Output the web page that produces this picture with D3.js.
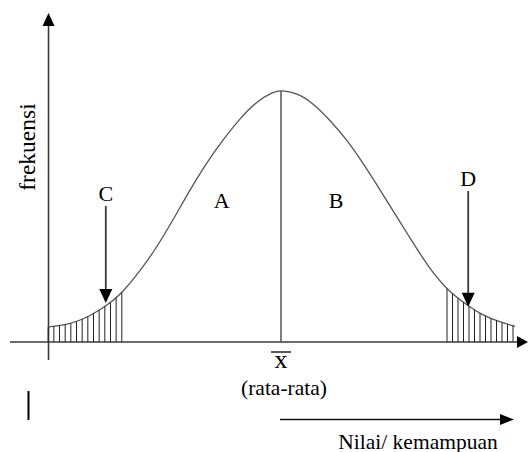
<!DOCTYPE html>
<html><head><meta charset="utf-8">
<script src="https://cdn.jsdelivr.net/npm/d3@7"></script>
<style>
html,body{margin:0;padding:0;background:#fff;}
svg{display:block;}
text{font-family:"Liberation Serif","Times New Roman",serif;fill:#000;}
</style></head><body>
<svg id="c" width="528" height="452"></svg>
<script>
// ---- data (x in standard-score units, y as relative frequency) ----
const curveX = [-2.91,-2.70,-2.49,-2.26,-2.09,-1.99,-1.76,-1.55,-1.35,-1.14,-0.925,-0.725,-0.51,-0.30,-0.10,0,
                0.20,0.40,0.61,0.825,1.025,1.24,1.45,1.65,1.86,2.09,2.325,2.525,2.74,2.925];
const curveY = [0.060,0.067,0.087,0.127,0.167,0.194,0.282,0.377,0.484,0.603,0.714,0.802,0.889,0.956,0.992,1.0,
                0.988,0.948,0.881,0.802,0.710,0.603,0.496,0.393,0.290,0.202,0.147,0.105,0.079,0.062];
const meanX = 0;
const tailStart = [-2.91, 2.075];
const tailEnd = [-1.99, 2.90];
const hatchCounts = [14, 13];
const areaLabels = ["A", "B"];
const areaLabelX = [-0.74, 0.69];
const arrowLabels = ["C", "D"];
const arrowLabelX = [-2.19, 2.34];
const arrowTipY = [0.155, 0.14];
const yAxisTitle = "frekuensi";
const meanSymbol = "x";
const meanCaption = "(rata-rata)";
const xAxisTitle = "Nilai/ kemampuan";

// ---- scales ----
const x = d3.scaleLinear().domain([-3, 3]).range([41, 521]);
const y = d3.scaleLinear().domain([0, 1]).range([342, 90]);
const svg = d3.select("#c");

const lineCol = "#3a3a3a";
const curveCol = "#555";

// ---- axes ----
const axisX0 = x(-2.906);
svg.append("line").attr("x1", axisX0).attr("x2", axisX0)
  .attr("y1", 24).attr("y2", 360).attr("stroke", lineCol).attr("stroke-width", 1.6);
svg.append("path").attr("d", `M${axisX0},13 L${axisX0-6},26 L${axisX0+6},26 Z`).attr("fill", "#000");
svg.append("line").attr("x1", 10).attr("x2", 519)
  .attr("y1", y(0)).attr("y2", y(0)).attr("stroke", lineCol).attr("stroke-width", 1.6);
svg.append("path").attr("d", `M528,${y(0)} L517,${y(0)-6} L517,${y(0)+6} Z`).attr("fill", "#000");

// ---- curve ----
const pts = curveX.map((v, i) => [v, curveY[i]]);
const lineGen = d3.line().x(d => x(d[0])).y(d => y(d[1])).curve(d3.curveBasis);
const curvePath = svg.append("path").attr("d", lineGen(pts))
  .attr("fill", "none").attr("stroke", curveCol).attr("stroke-width", 1.3);

const node = curvePath.node();
const L = node.getTotalLength();
const samples = d3.range(0, L + 0.5, 0.5).map(l => node.getPointAtLength(Math.min(l, L)));
function curveYAt(px) {
  let best = samples[0], bd = Infinity;
  for (const s of samples) { const d = Math.abs(s.x - px); if (d < bd) { bd = d; best = s; } }
  return best.y;
}

// mean line
const mx = x(meanX);
svg.append("line").attr("x1", mx).attr("x2", mx)
  .attr("y1", curveYAt(mx)).attr("y2", y(0)).attr("stroke", curveCol).attr("stroke-width", 1.5);

// hatch lines in tails
tailStart.forEach((s, k) => {
  const a = x(s), b = x(tailEnd[k]), n = hatchCounts[k];
  d3.range(n).forEach(i => {
    const px = a + (b - a) * i / (n - 1);
    svg.append("line").attr("x1", px).attr("x2", px)
      .attr("y1", curveYAt(px)).attr("y2", y(0))
      .attr("stroke", "#222").attr("stroke-width", 1);
  });
});

// ---- labels A, B ----
areaLabels.forEach((t, i) => {
  svg.append("text").attr("x", x(areaLabelX[i])).attr("y", 208)
    .attr("text-anchor", "middle").attr("font-size", 22).text(t);
});

// ---- arrows C, D ----
arrowLabels.forEach((t, i) => {
  const ax = x(arrowLabelX[i]);
  const tip = y(arrowTipY[i]);
  svg.append("text").attr("x", ax).attr("y", i === 0 ? 201 : 186)
    .attr("text-anchor", "middle").attr("font-size", 22).text(t);
  const top = i === 0 ? 206 : 191;
  svg.append("line").attr("x1", ax).attr("x2", ax).attr("y1", top).attr("y2", tip - 12)
    .attr("stroke", lineCol).attr("stroke-width", 1.8);
  svg.append("path").attr("d", `M${ax},${tip} L${ax-6.5},${tip-14} L${ax+6.5},${tip-14} Z`).attr("fill", "#000");
});

// ---- y axis title ----
svg.append("text").attr("transform", `translate(35,147) rotate(-90)`)
  .attr("text-anchor", "middle").attr("font-size", 23.5).text(yAxisTitle);

// ---- mean symbol ----
svg.append("text").attr("x", mx).attr("y", 368).attr("text-anchor", "middle")
  .attr("font-size", 26).text(meanSymbol);
svg.append("line").attr("x1", mx - 10).attr("x2", mx + 10).attr("y1", 352).attr("y2", 352)
  .attr("stroke", "#222").attr("stroke-width", 1.5);
svg.append("text").attr("x", 284).attr("y", 395).attr("text-anchor", "middle")
  .attr("font-size", 21.5).text(meanCaption);

// ---- bottom arrow ----
svg.append("line").attr("x1", mx - 1).attr("x2", 502).attr("y1", 419.5).attr("y2", 419.5)
  .attr("stroke", "#111").attr("stroke-width", 1.6);
svg.append("path").attr("d", `M514,419.5 L500,414 L500,425 Z`).attr("fill", "#000");
svg.append("text").attr("x", 418).attr("y", 448.5).attr("text-anchor", "middle")
  .attr("font-size", 21.5).text(xAxisTitle);

// cursor-like mark
svg.append("line").attr("x1", 28.5).attr("x2", 28.5).attr("y1", 391).attr("y2", 420)
  .attr("stroke", "#000").attr("stroke-width", 2);
</script>
</body></html>
